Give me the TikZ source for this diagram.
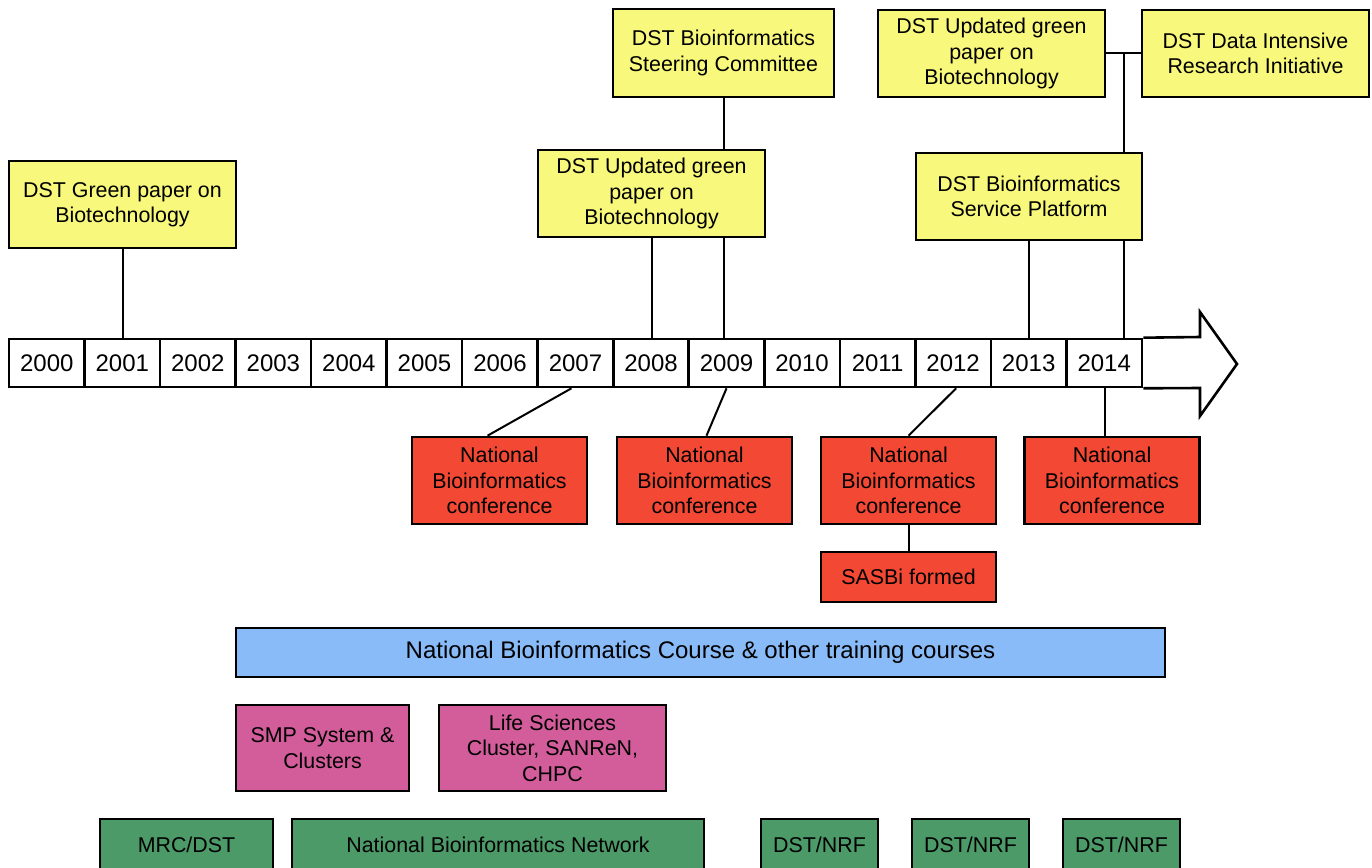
\documentclass[tikz,border=0pt]{standalone}
\usepackage{fontspec}
\setmainfont{Liberation Sans}
\usetikzlibrary{backgrounds,calc}
\definecolor{yel}{HTML}{F8F87C}
\definecolor{redb}{HTML}{F24834}
\definecolor{blueb}{HTML}{88BBF7}
\definecolor{pinkb}{HTML}{D35C9B}
\definecolor{greenb}{HTML}{4D9A69}
\begin{document}
\begin{tikzpicture}[x=1pt,y=-1pt,
  box/.style={draw=black, line width=2.6pt, inner sep=0pt, align=center,
    font=\fontsize{21.4}{25.5}\selectfont},
  yr/.style={box, fill=white, minimum width=75.53pt, minimum height=48pt,
    font=\fontsize{24}{26}\selectfont},
  ybox/.style={box, fill=yel},
  rbox/.style={box, fill=redb, minimum width=175pt},
  bbox/.style={box, fill=blueb, font=\fontsize{24}{26}\selectfont},
  pbox/.style={box, fill=pinkb},
  gbox/.style={box, fill=greenb, minimum height=52pt},
  conn/.style={draw=black, line width=2pt}]
\useasboundingbox (0,0) rectangle (1372,867);

% timeline
\foreach \i [evaluate=\i as \yy using int(2000+\i)] in {0,...,14}
  \node[yr] (y\i) at ({9+75.53*(\i+0.5)},363) {\yy};
\draw[line width=2.6pt, line join=miter, fill=white]
  (y14.north east) -- (1200,337) -- (1200,312) -- (1237,364) -- (1200,416) -- (1200,388) -- (y14.south east);

% yellow boxes
\node[ybox, minimum width=227pt, minimum height=87pt] (gp1) at (122.5,204.5) {DST Green paper on\\Biotechnology};
\node[ybox, minimum width=227pt, minimum height=87pt] (gp2) at (651.5,193.5) {DST Updated green\\paper on\\Biotechnology};
\node[ybox, minimum width=221pt, minimum height=88pt] (sc) at (723.5,53) {DST Bioinformatics\\Steering Committee};
\node[ybox, minimum width=227pt, minimum height=87pt] (gp3) at (991.5,53.5) {DST Updated green\\paper on\\Biotechnology};
\node[ybox, minimum width=227pt, minimum height=87pt] (dir) at (1255.5,53.5) {DST Data Intensive\\Research Initiative};
\node[ybox, minimum width=226pt, minimum height=87pt] (sp) at (1029,196.5) {DST Bioinformatics\\Service Platform};

% red boxes
\node[rbox, minimum height=87pt] (r1) at (499.5,480.5) {National\\Bioinformatics\\conference};
\node[rbox, minimum height=87pt] (r2) at (704.5,480.5) {National\\Bioinformatics\\conference};
\node[rbox, minimum height=87pt] (r3) at (908.5,480.5) {National\\Bioinformatics\\conference};
\node[rbox, minimum height=87pt] (r4) at (1112,480.5) {National\\Bioinformatics\\conference};
\node[rbox, minimum height=50pt] (sas) at (908.5,577) {SASBi formed};

% training
\node[bbox, minimum width=929pt, minimum height=49pt] (tr) at (700.5,652.5) {National Bioinformatics Course \& other training courses};
\node[pbox, minimum width=173pt, minimum height=86pt] (p1) at (322.5,748) {SMP System \&\\Clusters};
\node[pbox, minimum width=227pt, minimum height=86pt] (p2) at (552.5,748) {Life Sciences\\Cluster, SANReN,\\CHPC};

% funding
\node[gbox, minimum width=173pt] (g1) at (186.5,845) {MRC/DST};
\node[gbox, minimum width=412pt] (g2) at (498,845) {National Bioinformatics Network};
\node[gbox, minimum width=117pt] (g3) at (819.5,845) {DST/NRF};
\node[gbox, minimum width=117pt] (g4) at (970.5,845) {DST/NRF};
\node[gbox, minimum width=117pt] (g5) at (1121.5,845) {DST/NRF};

% connectors
\begin{scope}[on background layer]
  \draw[conn] (gp1.south) -- (gp1.south |- y1.north);
  \draw[conn] (gp2.south) -- (gp2.south |- y8.north);
  \draw[conn] (sc.south) -- (sc.south |- y9.north);
  \draw[conn] (sp.south) -- (sp.south |- y13.north);
  \draw[conn] (gp3.east) -- (dir.west);
  \coordinate (j) at ($(gp3.east)!0.5!(dir.west)$);
  \draw[conn] (j) -- (j |- y14.north);
  \draw[conn] ($(y7.south)+(-4,0)$) -- ($(r1.north)+(-12,0)$);
  \draw[conn] (y9.south) -- ($(r2.north)+(2,0)$);
  \draw[conn] ($(y12.south)+(3,0)$) -- (r3.north);
  \draw[conn] ($(y14.south)+(1,0)$) -- ($(y14.south |- r4.north)+(1,0)$);
  \draw[conn] (r3.south) -- (sas.north);
\end{scope}
\end{tikzpicture}
\end{document}
